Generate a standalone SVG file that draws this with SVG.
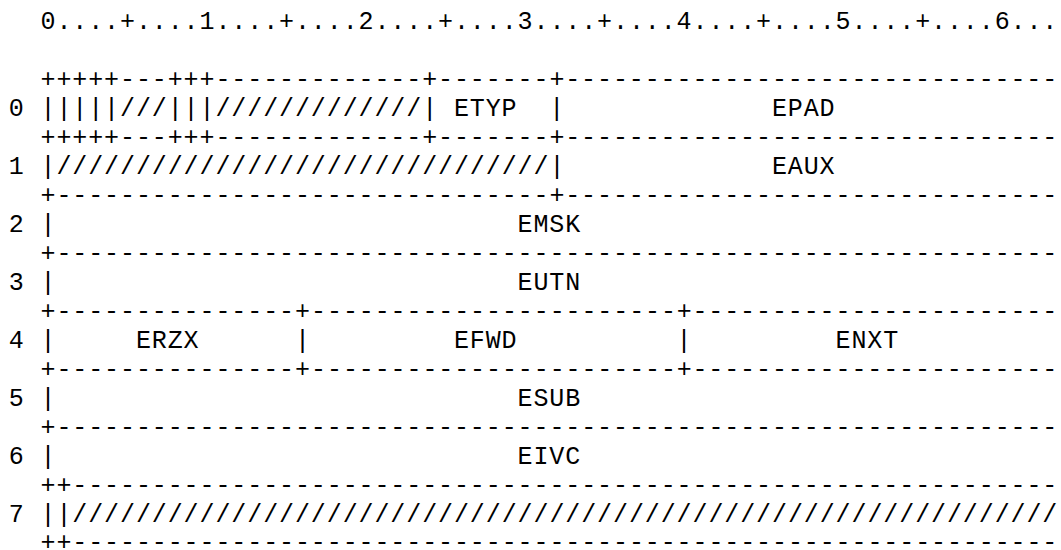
<svg xmlns="http://www.w3.org/2000/svg" width="1061" height="550" viewBox="0 0 1061 550">
<style>
text { font-family: "Liberation Mono", "Courier New", monospace; font-size: 25px; letter-spacing: 0.9px; fill: #000; }
</style>
<rect width="1061" height="550" fill="#ffffff"/>
<g id="ruler">
<text x="40.5" y="28.5">0....+....1....+....2....+....3....+....4....+....5....+....6...</text>
</g>
<g id="connectors">
<text x="40.5" y="86.5">+++++---+++-------------+-------+</text>
<text x="565.2" y="86.5">-------------------------------</text>
<text x="40.5" y="144.5">+++++---+++-------------+-------+</text>
<text x="565.2" y="144.5">-------------------------------</text>
<text x="40.5" y="202.5">+-------------------------------+</text>
<text x="565.2" y="202.5">-------------------------------</text>
<text x="40.5" y="260.5">+---------------------------------------------------------------</text>
<text x="40.5" y="318.5">+---------------+</text>
<text x="311.1" y="318.5">-----------------------+</text>
<text x="692.4" y="318.5">-----------------------</text>
<text x="40.5" y="376.5">+---------------+</text>
<text x="311.1" y="376.5">-----------------------+</text>
<text x="692.4" y="376.5">-----------------------</text>
<text x="40.5" y="434.5">+---------------------------------------------------------------</text>
<text x="40.5" y="492.5">++--------------------------------------------------------------</text>
<text x="40.5" y="549.5">++--------------------------------------------------------------</text>
</g>
<g id="row-0">
<text x="8.7" y="115.5">0</text>
<text x="40.5" y="115.5">|||||///|||/////////////|</text>
<text x="549.3" y="115.5">|</text>
<text id="ETYP" x="453.9" y="115.5">ETYP</text>
<text id="EPAD" x="771.9" y="115.5">EPAD</text>
</g>
<g id="row-1">
<text x="8.7" y="173.5">1</text>
<text x="40.5" y="173.5">|///////////////////////////////|</text>
<text id="EAUX" x="771.9" y="173.5">EAUX</text>
</g>
<g id="row-2">
<text x="8.7" y="231.5">2</text>
<text x="40.5" y="231.5">|</text>
<text id="EMSK" x="517.5" y="231.5">EMSK</text>
</g>
<g id="row-3">
<text x="8.7" y="289.5">3</text>
<text x="40.5" y="289.5">|</text>
<text id="EUTN" x="517.5" y="289.5">EUTN</text>
</g>
<g id="row-4">
<text x="8.7" y="347.5">4</text>
<text x="40.5" y="347.5">|</text>
<text x="294.9" y="347.5">|</text>
<text x="676.5" y="347.5">|</text>
<text id="ERZX" x="135.9" y="347.5">ERZX</text>
<text id="EFWD" x="453.9" y="347.5">EFWD</text>
<text id="ENXT" x="835.5" y="347.5">ENXT</text>
</g>
<g id="row-5">
<text x="8.7" y="405.5">5</text>
<text x="40.5" y="405.5">|</text>
<text id="ESUB" x="517.5" y="405.5">ESUB</text>
</g>
<g id="row-6">
<text x="8.7" y="463.5">6</text>
<text x="40.5" y="463.5">|</text>
<text id="EIVC" x="517.5" y="463.5">EIVC</text>
</g>
<g id="row-7">
<text x="8.7" y="521.5">7</text>
<text x="40.5" y="521.5">||//////////////////////////////////////////////////////////////</text>
</g>
</svg>
